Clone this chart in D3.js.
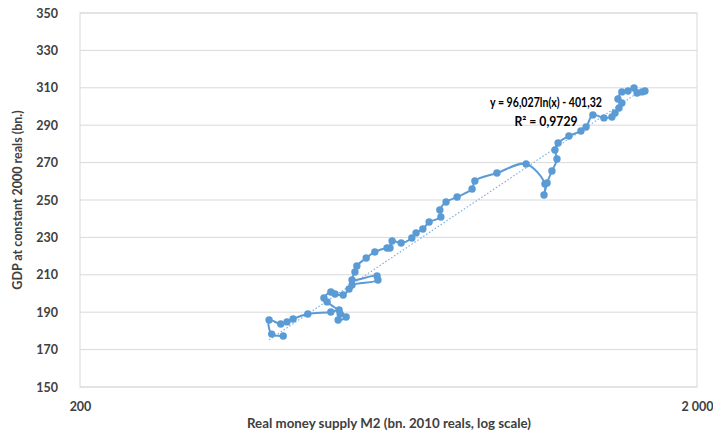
<!DOCTYPE html>
<html>
<head>
<meta charset="utf-8">
<script src="https://cdn.jsdelivr.net/npm/d3@7"></script>
<style>
  body { margin: 0; background: #fff; }
  svg text { font-family: Lato, "Open Sans", sans-serif; font-weight: bold; fill: #404040; }
</style>
</head>
<body>
<div id="chart"></div>
<script>
// Real money supply M2 (bn. 2010 reals), in chronological order
var m2 = [427, 409, 405, 423, 433, 443, 468, 510, 526, 528, 524, 540,
  503, 497, 510, 518, 534, 546, 552, 608, 606, 552, 558, 562, 582, 601,
  629, 636, 641, 663, 690, 701, 719, 736, 769, 766, 784, 817, 864, 873,
  948, 1057, 1134, 1130, 1143, 1164, 1186, 1177, 1191, 1240, 1297, 1322,
  1356, 1413, 1456, 1473, 1495, 1511, 1489, 1511, 1546, 1581, 1599, 1629, 1647];

// GDP at constant 2000 reals (bn.)
var gdp = [177.3, 178.3, 185.8, 183.7, 184.8, 186.4, 189.0, 190.1, 191.2, 189.0, 185.8, 187.4,
  195.5, 197.6, 200.8, 199.7, 199.2, 202.4, 204.5, 207.2, 209.4, 207.2, 211.5, 214.7, 219.0, 222.2,
  224.3, 224.3, 228.1, 227.0, 229.7, 232.4, 234.5, 238.2, 240.9, 244.7, 248.9, 251.6, 255.9, 260.2,
  264.4, 269.3, 258.6, 252.7, 259.1, 265.5, 271.9, 276.7, 280.5, 284.2, 286.9, 289.0,
  295.5, 293.9, 294.4, 296.5, 299.2, 301.9, 304.0, 307.8, 308.3, 309.9, 307.2, 307.8, 308.3];

// Tick labels
var yTicks = [150, 170, 190, 210, 230, 250, 270, 290, 310, 330, 350];
var xTicks = [200, 2000];

// Log trendline fit: y = a ln(x) + b
var trendA = 96.027, trendB = -401.32;
var trendLabel = ["y = 96,027ln(x) - 401,32", "R² = 0,9729"];

var width = 713, height = 436;
var margin = { top: 13, right: 16, bottom: 49, left: 80 };

var color = "#5B9BD5";

var svg = d3.select("#chart").append("svg")
  .attr("width", width)
  .attr("height", height);

// Scales
var x = d3.scaleLog()
  .domain([200, 2000])
  .range([margin.left, width - margin.right]);

var y = d3.scaleLinear()
  .domain([150, 350])
  .range([height - margin.bottom, margin.top]);

// Gridlines
svg.append("g")
  .selectAll("line")
  .data(yTicks).enter()
  .append("line")
    .attr("x1", margin.left)
    .attr("x2", width - margin.right)
    .attr("y1", function(d) { return y(d); })
    .attr("y2", function(d) { return y(d); })
    .attr("stroke", "#D9D9D9")
    .attr("stroke-width", 1);

// Plot border
svg.append("rect")
  .attr("x", margin.left)
  .attr("y", margin.top)
  .attr("width", width - margin.right - margin.left)
  .attr("height", height - margin.bottom - margin.top)
  .attr("fill", "none")
  .attr("stroke", "#D9D9D9");

// Y axis
var yAxis = svg.append("g")
  .attr("transform", "translate(" + margin.left + ",0)")
  .call(d3.axisLeft(y).tickValues(yTicks).tickSize(0).tickPadding(22));
yAxis.select(".domain").remove();
yAxis.selectAll("text").style("font-size", "12.5px");

// X axis
var xAxis = svg.append("g")
  .attr("transform", "translate(0," + (height - margin.bottom) + ")")
  .call(d3.axisBottom(x).tickValues(xTicks).tickSize(0).tickPadding(15)
    .tickFormat(function(d) { return d == 2000 ? "2 000" : d; }));
xAxis.select(".domain").remove();
xAxis.selectAll("text").style("font-size", "12.5px");

// Axis titles
svg.append("text")
  .attr("x", 389)
  .attr("y", 428)
  .attr("text-anchor", "middle")
  .attr("textLength", 284)
  .attr("lengthAdjust", "spacingAndGlyphs")
  .style("font-size", "12.5px")
  .text("Real money supply M2 (bn. 2010 reals, log scale)");

svg.append("text")
  .attr("transform", "translate(22,200) rotate(-90)")
  .attr("text-anchor", "middle")
  .style("font-size", "12.5px")
  .text("GDP at constant 2000 reals (bn.)");

// Trendline over data range
var xMin = d3.min(m2), xMax = d3.max(m2);
var trendX = d3.range(0, 41).map(function(i) {
  return xMin * Math.pow(xMax / xMin, i / 40);
});
svg.append("path")
  .datum(trendX)
  .attr("fill", "none")
  .attr("stroke", "#7EB0DF")
  .attr("stroke-width", 1.2)
  .attr("stroke-dasharray", "1.5,2")
  .attr("d", d3.line()
    .x(function(d) { return x(d); })
    .y(function(d) { return y(trendA * Math.log(d) + trendB); }));

// Series line
var points = m2.map(function(d, i) { return [d, gdp[i]]; });
svg.append("path")
  .datum(points)
  .attr("fill", "none")
  .attr("stroke", color)
  .attr("stroke-width", 2)
  .attr("d", d3.line()
    .curve(d3.curveCatmullRom.alpha(0.5))
    .x(function(d) { return x(d[0]); })
    .y(function(d) { return y(d[1]); }));

// Markers
svg.append("g")
  .selectAll("circle")
  .data(points).enter()
  .append("circle")
    .attr("cx", function(d) { return x(d[0]); })
    .attr("cy", function(d) { return y(d[1]); })
    .attr("r", 3.7)
    .attr("fill", color);

// Trendline label
var eqWidths = [112, 63];
svg.selectAll(".eq")
  .data(trendLabel).enter()
  .append("text")
    .attr("class", "eq")
    .attr("x", 546)
    .attr("y", function(d, i) { return 107 + i * 19; })
    .attr("text-anchor", "middle")
    .attr("textLength", function(d, i) { return eqWidths[i]; })
    .attr("lengthAdjust", "spacingAndGlyphs")
    .style("font-size", "12.5px")
    .style("fill", "#000")
    .text(function(d) { return d; });
</script>
</body>
</html>
